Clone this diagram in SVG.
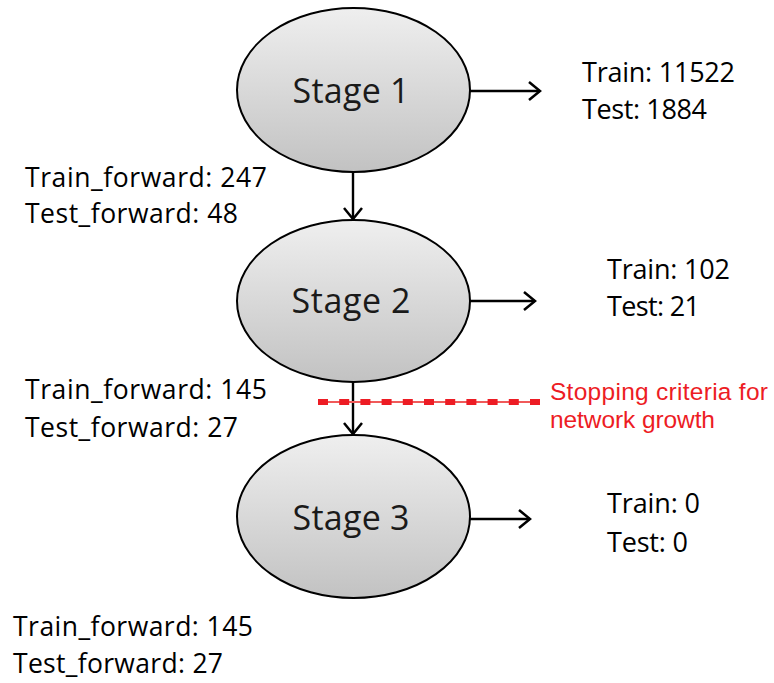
<svg xmlns="http://www.w3.org/2000/svg" width="774" height="683" viewBox="0 0 774 683">
<defs>
<linearGradient id="g" x1="0" y1="0" x2="0" y2="1">
<stop offset="0" stop-color="#efefef"/>
<stop offset="1" stop-color="#c2c2c2"/>
</linearGradient>
<marker id="ah" markerUnits="userSpaceOnUse" markerWidth="18" markerHeight="24" refX="13" refY="11" orient="auto">
<path d="M2,2 L13,11 L2,20" fill="none" stroke="#000" stroke-width="2.5"/>
</marker>
</defs>
<style>
.node ellipse{fill:url(#g);stroke:#000;stroke-width:2}
.stage{font-family:"Open Sans","Noto Sans",sans-serif;font-size:34px;fill:#1a1a1a;text-anchor:middle}
.lbl{font-family:"Open Sans","Noto Sans",sans-serif;font-size:26.5px;fill:#000}
.rl{font-family:"Open Sans","Noto Sans",sans-serif;font-size:27px;fill:#000}
.red{font-family:"Liberation Sans",Arial,sans-serif;font-size:24.5px;fill:#ed1c24}
.conn line{stroke:#000;stroke-width:2.4;marker-end:url(#ah)}
</style>
<rect width="774" height="683" fill="#fff"/>
<g id="connectors" class="conn">
<line x1="470" y1="91" x2="540" y2="91"/>
<line x1="470" y1="301" x2="535" y2="301"/>
<line x1="470" y1="519" x2="530" y2="519"/>
<line x1="353" y1="172" x2="353" y2="219"/>
<line x1="353" y1="382" x2="353" y2="434"/>
</g>
<g id="stage1" class="node">
<ellipse cx="353.5" cy="90" rx="116.5" ry="82"/>
<text class="stage" x="351" y="103" textLength="117">Stage 1</text>
</g>
<g id="stage2" class="node">
<ellipse cx="353.5" cy="301" rx="116.5" ry="81"/>
<text class="stage" x="351" y="313" textLength="119">Stage 2</text>
</g>
<g id="stage3" class="node">
<ellipse cx="353.5" cy="516.5" rx="116.5" ry="81.5"/>
<text class="stage" x="351" y="530" textLength="117">Stage 3</text>
</g>
<g id="stopping">
<line x1="318" y1="402" x2="540" y2="402" stroke="#f05a5a" stroke-width="2"/>
<line x1="318" y1="402" x2="540" y2="402" stroke="#ed1c24" stroke-width="6" stroke-dasharray="10 11.2"/>
<text class="red" x="550" y="400" textLength="218">Stopping criteria for</text>
<text class="red" x="550" y="428" textLength="165">network growth</text>
</g>
<g id="labels">
<text class="rl" x="582" y="82" textLength="153">Train: 11522</text>
<text class="rl" x="582" y="119" textLength="125">Test: 1884</text>
<text class="lbl" x="25" y="187" textLength="242">Train_forward: 247</text>
<text class="lbl" x="25" y="223" textLength="213">Test_forward: 48</text>
<text class="rl" x="607" y="279" textLength="123">Train: 102</text>
<text class="rl" x="607" y="316" textLength="93">Test: 21</text>
<text class="lbl" x="25" y="399" textLength="242">Train_forward: 145</text>
<text class="lbl" x="25" y="437" textLength="213">Test_forward: 27</text>
<text class="rl" x="607" y="513" textLength="93">Train: 0</text>
<text class="rl" x="607" y="552" textLength="81">Test: 0</text>
<text class="lbl" x="13" y="636" textLength="240">Train_forward: 145</text>
<text class="lbl" x="13" y="673" textLength="210">Test_forward: 27</text>
</g>
</svg>
